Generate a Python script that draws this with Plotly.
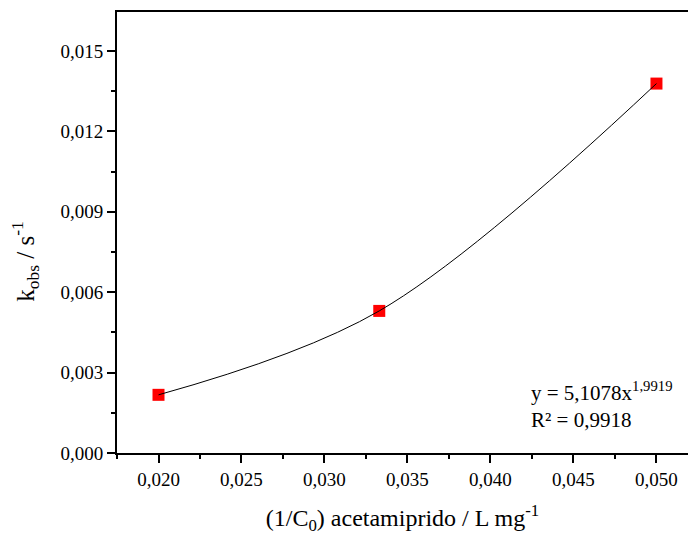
import plotly.graph_objects as go

# Data
inv_c0 = [0.020, 0.0333, 0.050]
k_obs = [0.00217, 0.00530, 0.01378]
x_tickvals = [0.020, 0.025, 0.030, 0.035, 0.040, 0.045, 0.050]
x_ticktext = ["0,020", "0,025", "0,030", "0,035", "0,040", "0,045", "0,050"]
y_tickvals = [0.000, 0.003, 0.006, 0.009, 0.012, 0.015]
y_ticktext = ["0,000", "0,003", "0,006", "0,009", "0,012", "0,015"]
fit_text = "y = 5,1078x<sup>1,9919</sup><br>R² = 0,9918"

FONT = "Liberation Serif"

fig = go.Figure()
fig.add_trace(go.Scatter(
    x=inv_c0, y=k_obs, mode="markers",
    marker=dict(symbol="square", size=12, color="#ff0000", line=dict(width=0)),
    showlegend=False, hoverinfo="skip",
))
fig.add_trace(go.Scatter(
    x=inv_c0, y=k_obs, mode="lines",
    line=dict(color="black", width=1, shape="spline", smoothing=1.0),
    showlegend=False, hoverinfo="skip",
))

fig.add_annotation(
    x=0.0423, y=0.0007, xref="x", yref="y",
    text=fit_text, showarrow=False, align="left",
    xanchor="left", yanchor="bottom",
    font=dict(family=FONT, size=21, color="black"),
)

# y-axis title placed as annotation (sits slightly below the plot centre)
fig.add_annotation(
    x=-0.16, y=0.435, xref="paper", yref="paper",
    text="k<sub>obs</sub> / s<sup>-1</sup>", textangle=-90, showarrow=False,
    xanchor="center", yanchor="middle",
    font=dict(family=FONT, size=25, color="black"),
)

axis_common = dict(
    showgrid=False, zeroline=False,
    showline=True, linecolor="black", linewidth=2,
    ticks="outside", ticklen=8, tickwidth=2, tickcolor="black",
    tickfont=dict(family=FONT, size=19, color="black"),
)

fig.update_xaxes(
    **axis_common,
    range=[0.0175, 0.0519],
    tickvals=x_tickvals, ticktext=x_ticktext,
    mirror=True,
    minor=dict(dtick=0.0025, tick0=0.0175, ticks="outside", ticklen=4, tickwidth=2, tickcolor="black"),
    title=dict(text="(1/C<sub>0</sub>) acetamiprido / L mg<sup>-1</sup>",
               font=dict(family=FONT, size=24, color="black"), standoff=20),
)
fig.update_yaxes(
    **axis_common,
    range=[0.0, 0.01645],
    tickvals=y_tickvals, ticktext=y_ticktext,
    minor=dict(dtick=0.0015, tick0=0.0, ticks="outside", ticklen=4, tickwidth=2, tickcolor="black"),
)

fig.update_layout(
    width=688, height=536,
    margin=dict(l=117, r=0, t=12, b=83),
    paper_bgcolor="white", plot_bgcolor="white",
)

fig.write_html("out.html")
